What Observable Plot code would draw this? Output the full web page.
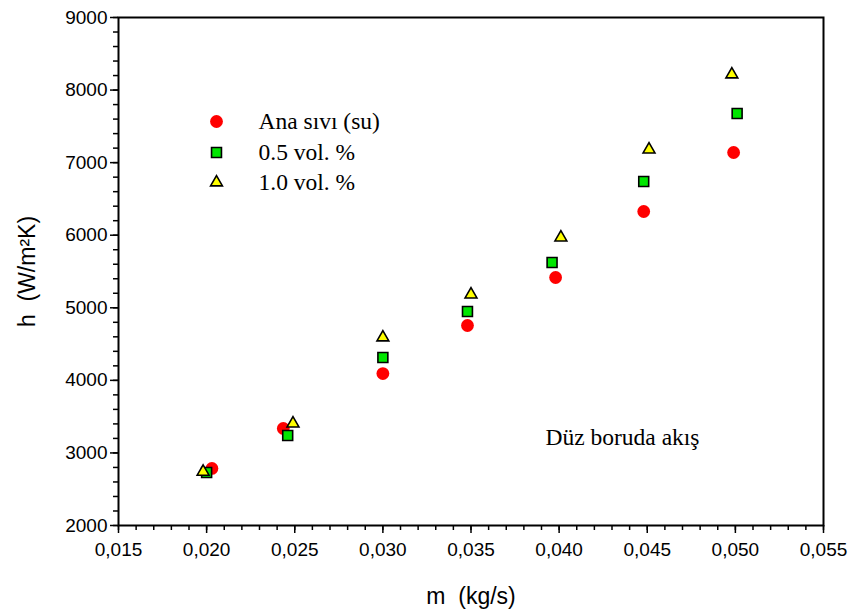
<!DOCTYPE html>
<html><head><meta charset="utf-8">
<script src="https://cdn.jsdelivr.net/npm/d3@7"></script>
<script src="https://cdn.jsdelivr.net/npm/@observablehq/plot@0.6"></script>
<style>
body{margin:0;background:#fff}
#chart{position:relative;width:853px;height:613px}
</style>
</head><body><div id="chart"></div>
<script>
// Series names
const seriesNames = ["Ana sıvı (su)", "0.5 vol. %", "1.0 vol. %"];
// Ana sıvı (su) – base fluid (water)
const waterX = [0.0203, 0.02435, 0.0300, 0.0348, 0.0398, 0.0448, 0.0499];
const waterY = [2786, 3337, 4094, 4756, 5417, 6327, 7140];
// 0.5 vol. %
const np05X = [0.0200, 0.0246, 0.0300, 0.0348, 0.0396, 0.0448, 0.0501];
const np05Y = [2730, 3240, 4315, 4949, 5624, 6740, 7677];
// 1.0 vol. %
const np10X = [0.0198, 0.0249, 0.0300, 0.0350, 0.0401, 0.0451, 0.0498];
const np10Y = [2740, 3405, 4591, 5183, 5968, 7181, 8215];
// Tick labels
const xTicks = [0.015, 0.020, 0.025, 0.030, 0.035, 0.040, 0.045, 0.050, 0.055];
const yTicks = [2000, 3000, 4000, 5000, 6000, 7000, 8000, 9000];
const xLabel = "m  (kg/s)";
const yLabel = "h  (W/m²K)";
const note = "Düz boruda akış";

const styles = [
  {symbol: "circle", fill: "#ff0000", stroke: "none", strokeWidth: 0, r: 6.4},
  {symbol: "square", fill: "#00e600", stroke: "#000", strokeWidth: 1.6, r: 5.6},
  {symbol: "triangle", fill: "#ffff00", stroke: "#000", strokeWidth: 1.6, r: 4.4}
];
const seriesData = [
  waterX.map((x, i) => ({x, y: waterY[i]})),
  np05X.map((x, i) => ({x, y: np05Y[i]})),
  np10X.map((x, i) => ({x, y: np10Y[i]}))
];

const xMinor = d3.range(15, 56).map(v => v / 1000);
const yMinor = d3.range(2000, 9001, 200);
const fmtX = d => d3.format(".3f")(d).replace(".", ",");

const legendDy = [104, 135, 165];
const serif = "'Liberation Serif', 'Times New Roman', serif";

const chart = Plot.plot({
  width: 853,
  height: 613,
  marginLeft: 118,
  marginRight: 30,
  marginTop: 17,
  marginBottom: 88,
  style: {fontFamily: "'Liberation Sans', Arial, sans-serif", fontSize: "19px", color: "#000", background: "#fff"},
  x: {domain: [0.015, 0.055]},
  y: {domain: [2000, 9000]},
  marks: [
    Plot.axisX({ticks: xMinor, tickSize: 5, tickFormat: () => "", label: null, strokeWidth: 1.5}),
    Plot.axisX({ticks: xTicks, tickSize: 8, tickPadding: 9, tickFormat: fmtX, label: null, strokeWidth: 1.5, fontSize: 19}),
    Plot.axisY({ticks: yMinor, tickSize: 5, tickFormat: () => "", label: null, strokeWidth: 1.5}),
    Plot.axisY({ticks: yTicks, tickSize: 8, tickPadding: 3, tickFormat: d => String(d), label: null, strokeWidth: 1.5, fontSize: 19}),
    Plot.frame({stroke: "#000", strokeWidth: 2}),
    ...seriesData.map((data, k) => Plot.dot(data, {x: "x", y: "y", ...styles[k]})),
    // legend
    ...seriesNames.map((name, k) => Plot.dot([name], {frameAnchor: "top-left", dx: 98, dy: legendDy[k], ...styles[k]})),
    ...seriesNames.map((name, k) => Plot.text([name], {frameAnchor: "top-left", dx: 140, dy: legendDy[k], text: d => d, textAnchor: "start", lineAnchor: "middle", fontFamily: serif, fontSize: 23.5, fill: "#000"})),
    Plot.text([note], {frameAnchor: "top-left", dx: 427, dy: 420, text: d => d, textAnchor: "start", lineAnchor: "middle", fontFamily: serif, fontSize: 23.5, fill: "#000"}),
    Plot.text([xLabel], {frameAnchor: "bottom", dy: 71, text: d => d, textAnchor: "middle", lineAnchor: "middle", fontSize: 23, fill: "#000"}),
    Plot.text([yLabel], {frameAnchor: "left", dx: -91, rotate: -90, text: d => d, textAnchor: "middle", lineAnchor: "middle", fontSize: 23, fill: "#000"})
  ]
});
document.getElementById("chart").appendChild(chart);
</script>
</body></html>
